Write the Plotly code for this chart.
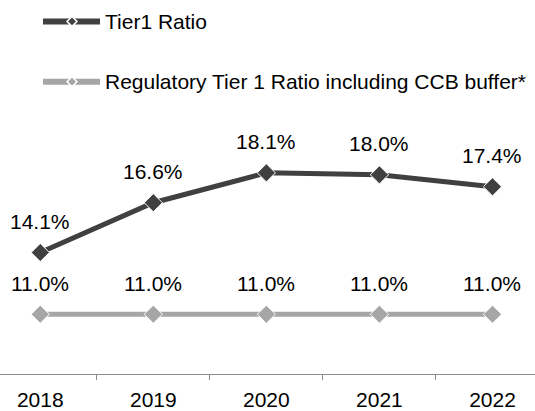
import plotly.graph_objects as go

years = ["2018", "2019", "2020", "2021", "2022"]
tier1_ratio = [14.1, 16.6, 18.1, 18.0, 17.4]
regulatory_tier1 = [11.0, 11.0, 11.0, 11.0, 11.0]

series_names = ["Tier1 Ratio", "Regulatory Tier 1 Ratio including CCB buffer*"]
series_colors = ["#404040", "#A6A6A6"]

W, H = 535, 411
M_T, M_B = 135, 34
FONT = "Liberation Sans, Arial, sans-serif"
FS = 21

fig = go.Figure()

for name, vals, col in zip(series_names, [tier1_ratio, regulatory_tier1], series_colors):
    fig.add_trace(go.Scatter(
        x=years, y=vals, name=name, mode="lines+markers",
        line=dict(color=col, width=5),
        marker=dict(symbol="diamond", size=14, color=col,
                    line=dict(color="white", width=1)),
        showlegend=False, hoverinfo="skip",
    ))
    # value labels above each point (category axes take the serial index)
    for idx, v in enumerate(vals):
        fig.add_annotation(x=idx, y=v, xref="x", yref="y", text=f"{v:.1f}%",
                           showarrow=False, yshift=31,
                           font=dict(family=FONT, size=FS, color="#000000"))

# legend drawn in pixel space above the plot area
plot_h = H - M_T - M_B

def py(pix_y):
    return (H - M_B - pix_y) / plot_h

def px(pix_x):
    return pix_x / W

for i, (name, col) in enumerate(zip(series_names, series_colors)):
    ly = 20 + i * 61
    fig.add_shape(type="line", xref="paper", yref="paper",
                  x0=px(43), x1=px(100), y0=py(ly), y1=py(ly),
                  line=dict(color=col, width=6))
    cx, cy, r = 72, ly, 5
    path = (f"M {px(cx - r)} {py(cy)} L {px(cx)} {py(cy - r)} "
            f"L {px(cx + r)} {py(cy)} L {px(cx)} {py(cy + r)} Z")
    fig.add_shape(type="path", xref="paper", yref="paper", path=path,
                  fillcolor=col, line=dict(color="white", width=1.5))
    fig.add_annotation(xref="paper", yref="paper", x=px(103), y=py(ly),
                       xanchor="left", yanchor="middle", showarrow=False,
                       text=name, font=dict(family=FONT, size=FS, color="#000000"))

fig.update_layout(
    width=W, height=H,
    margin=dict(l=0, r=0, t=M_T, b=M_B, pad=0),
    paper_bgcolor="white", plot_bgcolor="white",
    font=dict(family=FONT, size=FS, color="#000000"),
    xaxis=dict(type="category", range=[-0.356, 4.376],
               showline=True, linecolor="#8C8C8C", linewidth=1,
               ticks="outside", tickson="boundaries", ticklen=5,
               tickcolor="#8C8C8C", showgrid=False, zeroline=False,
               ticklabelstandoff=7,
               tickfont=dict(family=FONT, size=FS, color="#000000")),
    yaxis=dict(range=[8, 20], visible=False, showgrid=False, zeroline=False),
)

fig.write_html("out.html")
